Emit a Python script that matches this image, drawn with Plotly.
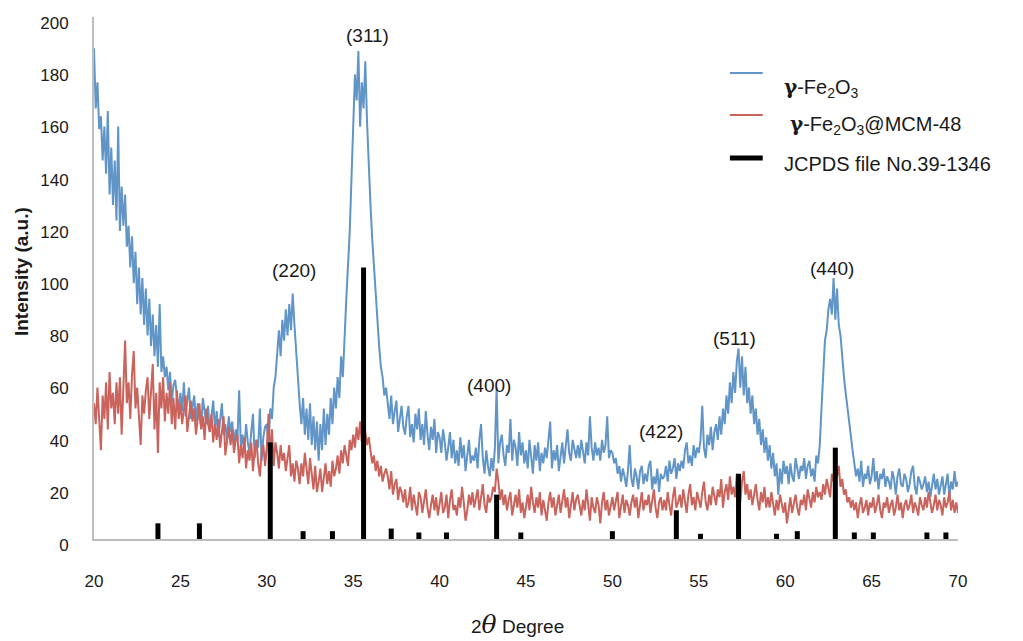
import numpy as np
import plotly.graph_objects as go

# 2-theta scan grid: 20.0 to 70.0 degrees, 0.1 degree step
two_theta = np.round(np.arange(200, 701) / 10, 1)

# gamma-Fe2O3 intensity (a.u.), one row per degree
fe2o3 = [
    188, 165, 175, 157, 162, 145, 158, 140, 164, 132,
    150, 128, 145, 122, 158, 118, 135, 120, 132, 112,
    120, 104, 116, 98, 110, 90, 104, 86, 100, 82,
    96, 78, 92, 74, 86, 70, 82, 66, 90, 64,
    70, 62, 66, 57, 64, 52, 59, 61, 54, 50,
    56, 49, 60, 47, 53, 58, 46, 51, 55, 45,
    52, 47, 43, 54, 49, 44, 51, 41, 47, 53,
    42, 49, 39, 46, 52, 40, 44, 38, 47, 41,
    45, 36, 42, 38, 57, 35, 40, 34, 44, 37,
    33, 41, 48, 31, 38, 35, 50, 30, 39, 43,
    44, 36, 50, 46, 58, 62, 72, 80, 70, 84,
    76, 88, 78, 90, 80, 94, 82, 72, 58, 52,
    44, 54, 40, 50, 38, 52, 36, 47, 34, 45,
    30, 44, 34, 50, 36, 48, 40, 54, 44, 58,
    50, 62, 54, 70, 62, 80, 92, 105, 118, 138,
    155, 178, 168, 187, 158, 175, 165, 183, 160, 140,
    128, 115, 104, 92, 82, 74, 66, 62, 55, 58,
    52, 46, 55, 44, 49, 53, 41, 47, 51, 43,
    40, 47, 51, 39, 44, 37, 48, 42, 50, 38,
    44, 36, 49, 40, 34, 43, 38, 46, 33, 41,
    39, 33, 42, 37, 30, 35, 41, 31, 38, 29,
    34, 28, 39, 31, 36, 26, 33, 38, 29, 32,
    30, 35, 27, 38, 44, 31, 25, 34, 28, 24,
    31, 26, 35, 58, 29, 37, 40, 32, 28, 36,
    33, 46, 30, 38, 35, 28, 41, 32, 37, 29,
    34, 27, 38, 31, 25, 36, 30, 37, 26, 33,
    29, 35, 31, 38, 45, 27, 34, 30, 36, 26,
    32, 37, 29, 35, 42, 33, 30, 38, 34, 31,
    36, 31, 38, 33, 29, 37, 32, 47, 35, 30,
    37, 32, 35, 30, 38, 33, 36, 47, 31, 34,
    33, 29, 31, 25, 28, 22, 27, 24, 20, 26,
    36, 23, 20, 27, 24, 19, 26, 28, 21, 25,
    22, 28, 30, 19, 24, 21, 27, 18, 25, 23,
    24, 28, 22, 30, 25, 27, 31, 23, 29, 26,
    30, 27, 34, 37, 29, 32, 28, 36, 31, 35,
    33, 38, 51, 35, 31, 40, 36, 43, 34, 41,
    44, 38, 47, 40, 50, 44, 55, 48, 60, 52,
    64, 56, 68, 73, 58, 70, 55, 66, 52, 58,
    48, 55, 44, 50, 40, 46, 36, 42, 33, 39,
    30, 36, 27, 33, 24, 29, 17, 27, 21, 30,
    25, 28, 21, 29, 24, 22, 31, 27, 23, 28,
    26, 31, 23, 28, 30, 24, 27, 22, 32, 29,
    36, 50, 66, 76, 80, 88, 92, 86, 100, 84,
    96, 82, 78, 68, 62, 56, 50, 45, 38, 34,
    29, 24, 27, 22, 30, 20, 25, 23, 28, 21,
    24, 31, 22, 26, 19, 25, 23, 27, 20, 24,
    22, 19, 26, 23, 17, 24, 27, 21, 20, 25,
    23, 18, 21, 26, 28, 20, 17, 24, 22, 19,
    21, 24, 18, 22, 16, 20, 25, 19, 23, 17,
    20, 24, 17, 21, 25, 16, 22, 19, 26, 20,
    22,
]

# gamma-Fe2O3@MCM-48 intensity (a.u.), one row per degree
fe2o3_mcm48 = [
    52, 44, 58, 48, 34, 55, 46, 60, 42, 64,
    50, 56, 44, 60, 48, 62, 40, 58, 76, 52,
    60, 46, 63, 72, 50, 58, 44, 36, 55, 48,
    57, 62, 46, 58, 67, 42, 56, 33, 60, 50,
    62, 45, 56, 48, 60, 44, 54, 42, 57, 46,
    52, 44, 49, 55, 41, 47, 53, 45, 50, 40,
    46, 52, 42, 47, 38, 50, 44, 41, 48, 37,
    44, 38, 46, 35, 41, 47, 32, 39, 43, 36,
    42, 33, 38, 40, 29, 36, 31, 39, 27, 34,
    30, 37, 26, 34, 38, 29, 24, 33, 36, 28,
    35, 48, 31, 42, 28, 37, 33, 27, 36, 30,
    33, 26, 31, 36, 24, 29, 22, 30, 27, 21,
    29, 24, 33, 27, 21, 31, 25, 19, 28, 18,
    22, 27, 18, 25, 29, 21, 26, 20, 30, 24,
    27, 32, 25, 34, 29, 36, 31, 28, 38, 34,
    40, 35, 43, 38, 45, 37, 46, 41, 36, 39,
    34, 29, 32, 26, 30, 24, 28, 22, 25, 27,
    24, 19, 26, 17, 21, 23, 15, 20, 18, 14,
    19, 12, 14, 20, 11, 17, 13, 9, 18, 16,
    10, 15, 19, 12, 8, 13, 17, 11, 16, 9,
    14, 18, 10, 12, 17, 8, 15, 19, 11, 13,
    9, 16, 12, 20, 14, 7, 11, 17, 13, 18,
    12, 15, 19, 11, 16, 21, 13, 10, 17, 14,
    16, 20, 18, 27, 22, 15, 19, 13, 17, 11,
    15, 18, 9, 13, 17, 12, 19, 10, 14, 8,
    13, 17, 11, 20, 14, 10, 16, 12, 18, 9,
    15, 11, 7, 14, 18, 12, 16, 9, 13, 17,
    10, 14, 19, 12, 16, 8, 13, 18, 11, 15,
    17, 12, 9, 15, 11, 19, 14, 7, 16, 12,
    10, 16, 13, 6, 14, 18, 11, 15, 9, 13,
    16, 11, 14, 18, 8, 12, 17, 10, 15, 13,
    9, 14, 17, 12, 16, 8, 13, 18, 11, 15,
    13, 17, 10, 15, 19, 12, 8, 14, 16, 11,
    15, 11, 18, 13, 9, 16, 20, 12, 14, 17,
    12, 19, 14, 10, 17, 21, 13, 16, 11, 18,
    15, 12, 18, 22, 14, 11, 17, 13, 20, 16,
    13, 19, 16, 23, 12, 18, 21, 15, 24, 17,
    20, 16, 25, 18, 14, 22, 26, 17, 21, 15,
    19, 13, 17, 21, 15, 11, 18, 14, 20, 12,
    16, 12, 18, 14, 9, 15, 11, 17, 13, 10,
    14, 6, 11, 16, 10, 13, 17, 12, 9, 15,
    13, 17, 11, 19, 15, 12, 18, 14, 20, 16,
    18, 15, 21, 17, 23, 19, 16, 25, 22, 27,
    24, 28, 20, 23, 17, 19, 14, 16, 12, 15,
    11, 14, 8, 13, 16, 10, 12, 15, 9, 14,
    12, 16, 10, 13, 17, 11, 8, 14, 12, 16,
    10, 13, 15, 9, 12, 17, 11, 14, 8, 13,
    15, 11, 13, 17, 10, 14, 12, 9, 16, 13,
    11, 16, 12, 18, 14, 10, 13, 17, 11, 15,
    13, 9, 16, 12, 14, 18, 11, 15, 10, 14,
    10,
]

# JCPDS 39-1346 reference lines
jcpds_pos = [23.7, 26.1, 30.2, 32.1, 33.8, 35.6, 37.2, 38.8, 40.4, 43.3, 44.7,
             50.0, 53.7, 55.1, 57.3, 59.5, 60.7, 62.9, 64.0, 65.1, 68.2, 69.3]
jcpds_int = [6, 6, 37, 3, 3, 104, 4, 2.5, 2.5, 17, 2.5,
             3, 11, 2, 25, 2, 3, 35, 2.5, 2.5, 2.5, 2.5]

# Miller-index labels for the main reflections
hkl_labels = ["(220)", "(311)", "(400)", "(422)", "(511)", "(440)"]

x_ticks = [20, 25, 30, 35, 40, 45, 50, 55, 60, 65, 70]
y_ticks = [0, 20, 40, 60, 80, 100, 120, 140, 160, 180, 200]

BLUE = "#6194c7"
RED = "#c9635b"
INK = "#1a1a1a"
FONT = "Liberation Sans, Arial, sans-serif"

# stick pattern: vertical segments from the baseline to each reference intensity
stick_x, stick_y = [], []
for p, h in zip(jcpds_pos, jcpds_int):
    stick_x += [p, p, None]
    stick_y += [0, h, None]

fig = go.Figure()
fig.add_trace(go.Scatter(x=two_theta, y=fe2o3, mode="lines",
                         line=dict(color=BLUE, width=2), name="γ-Fe2O3",
                         showlegend=False))
fig.add_trace(go.Scatter(x=two_theta, y=fe2o3_mcm48, mode="lines",
                         line=dict(color=RED, width=2), name="γ-Fe2O3@MCM-48",
                         showlegend=False))
fig.add_trace(go.Scatter(x=stick_x, y=stick_y, mode="lines",
                         line=dict(color="black", width=5),
                         name="JCPDS file No.39-1346", showlegend=False))

# reflection labels above their peaks (x in degrees, y in intensity units)
label_xy = [(31.55, 103), (35.8, 193), (42.85, 59), (52.8, 41), (57.05, 77), (62.7, 103.5)]
for txt, (lx, ly) in zip(hkl_labels, label_xy):
    fig.add_annotation(x=lx, y=ly, text=txt, showarrow=False,
                       xanchor="center", yanchor="middle",
                       font=dict(family=FONT, size=19, color=INK))

# hand-placed legend
gamma = '<span style="font-family:DejaVu Serif"><b>γ</b></span>'
legend_rows = [
    (BLUE, 2, 0.8927, 0.864, 0.7963, gamma + "-Fe<sub>2</sub>O<sub>3</sub>"),
    (RED, 2, 0.8123, 0.7931, 0.8033, gamma + "-Fe<sub>2</sub>O<sub>3</sub>@MCM-48"),
    ("black", 5, 0.7299, 0.7184, 0.7963, "JCPDS file No.39-1346"),
]
for color, w, ly, ty, tx, txt in legend_rows:
    fig.add_shape(type="line", xref="paper", yref="paper",
                  x0=0.736, x1=0.774, y0=ly, y1=ly,
                  line=dict(color=color, width=w))
    fig.add_annotation(xref="paper", yref="paper", x=tx, y=ty, text=txt,
                       showarrow=False, xanchor="left", yanchor="middle",
                       font=dict(family=FONT, size=20, color=INK))

# axis titles
fig.add_annotation(xref="paper", yref="paper", x=-0.0833, y=0.5115,
                   text="<b>Intensity (a.u.)</b>", textangle=-90, showarrow=False,
                   xanchor="center", yanchor="middle",
                   font=dict(family=FONT, size=19, color=INK))
fig.add_annotation(xref="paper", yref="paper", x=0.4896, y=-0.163,
                   text='2<span style="font-family:DejaVu Serif;font-style:italic;font-size:25px">θ</span> Degree',
                   showarrow=False, xanchor="center", yanchor="middle",
                   font=dict(family=FONT, size=19, color=INK))

fig.update_layout(
    width=1023, height=641,
    margin=dict(l=94, r=65, t=17, b=102),
    paper_bgcolor="white", plot_bgcolor="white",
    font=dict(family=FONT, size=17, color=INK),
    showlegend=False,
)
fig.update_xaxes(range=[20, 70], tickvals=x_ticks, ticks="", showgrid=False,
                 zeroline=False, showline=True, linecolor="#bdbdbd", linewidth=2,
                 automargin=False, ticklabelstandoff=26, tickfont=dict(size=17))
fig.update_yaxes(range=[0, 200], tickvals=y_ticks, ticks="", showgrid=False,
                 zeroline=False, showline=True, linecolor="#bdbdbd", linewidth=2,
                 automargin=False, ticklabelstandoff=20, ticklabelshift=6,
                 tickfont=dict(size=17))

fig.write_html("out.html")
